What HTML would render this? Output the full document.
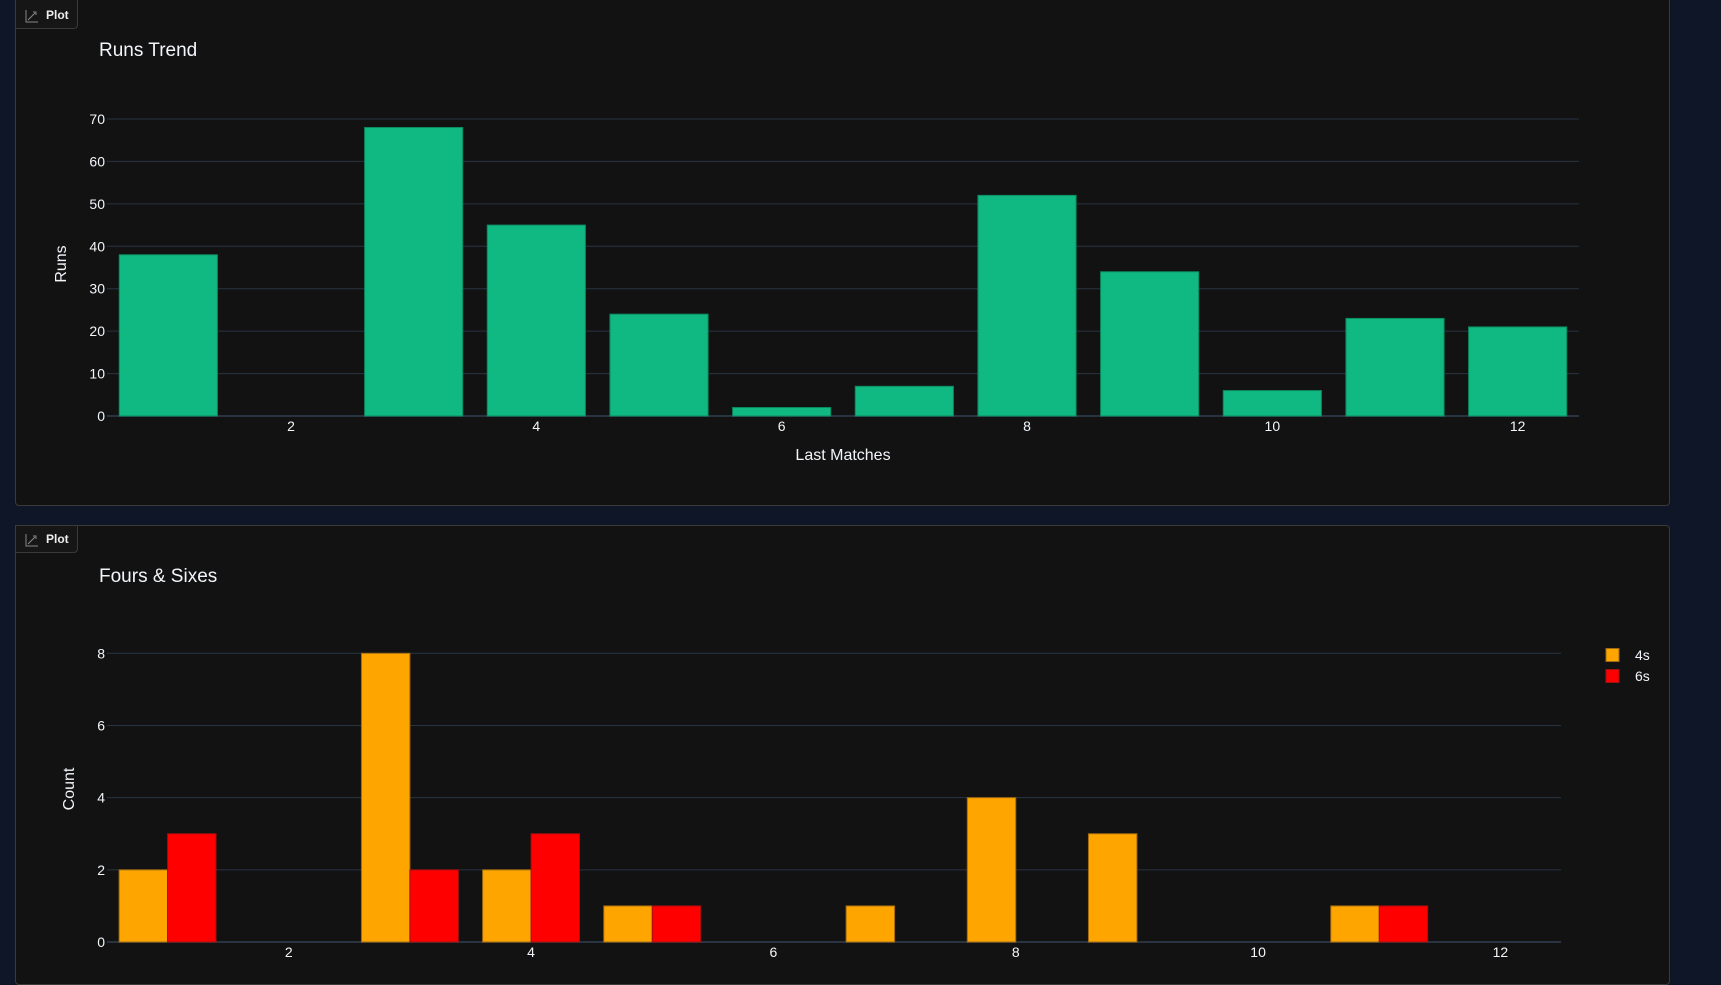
<!DOCTYPE html>
<html><head><meta charset="utf-8">
<style>
html,body{margin:0;padding:0;background:#0e1628;width:1721px;height:973px;overflow:hidden;font-family:"Liberation Sans","DejaVu Sans",sans-serif;}
.card{position:absolute;left:15px;width:1655px;background:#121212;border:1px solid #3a3a3a;border-radius:4px;box-sizing:border-box;}
.tab{position:absolute;left:-1px;top:-1px;width:63px;height:28px;border:1px solid #3a3a3a;border-radius:0 0 4px 0;background:#161616;color:#eee;font-size:12px;box-sizing:border-box;}
.tab span{position:absolute;left:30px;top:6px;font-weight:bold;}
svg{position:absolute;left:0;top:0;}
</style></head>
<body>
<div class="card" style="top:-4px;height:510px;">
  <div class="tab" style="top:-1px;height:33px;"><svg width="14" height="14" style="left:9px;top:12px"><path d="M1 1V13H13M3 11L10 4M8 3H11V6" stroke="#888" fill="none" stroke-width="1"/></svg><span style="top:11px">Plot</span></div>
</div>
<div class="card" style="top:525px;height:460px;">
  <div class="tab"><svg width="14" height="14" style="left:9px;top:7px"><path d="M1 1V13H13M3 11L10 4M8 3H11V6" stroke="#888" fill="none" stroke-width="1"/></svg><span>Plot</span></div>
</div>
<svg id="s" width="1721" height="973"></svg>
<script>
const categories=[1,2,3,4,5,6,7,8,9,10,11,12];
const runs=[38,0,68,45,24,2,7,52,34,6,23,21];
const fours=[2,0,8,2,1,0,1,4,3,0,1,0];
const sixes=[3,0,2,3,1,0,0,0,0,0,1,0];
const runTicks=[0,10,20,30,40,50,60,70];
const countTicks=[0,2,4,6,8];
const xTicks=[2,4,6,8,10,12];
const NS="http://www.w3.org/2000/svg";
const s=document.getElementById('s');
function mk(t,a,txt){const e=document.createElementNS(NS,t);for(const k in a)e.setAttribute(k,a[k]);if(txt!==undefined)e.textContent=txt;s.appendChild(e);return e;}
function chart(o){
  const n=categories.length, step=(o.x1-o.x0)/n;
  const xc=c=>o.x0+(c-0.5)*step;
  const y=v=>o.y0-(v/o.max)*(o.y0-o.yTop);
  o.yt.forEach(t=>{
    const l=mk('line',{x1:o.x0,x2:o.x1,y1:y(t),y2:y(t),stroke:'#283442','stroke-width':t===0?2:1});
    
    
    const tx=mk('text',{x:o.x0-2,y:y(t)+5,fill:'#f2f5fa','font-size':14,'text-anchor':'end'},t);
    
    
  });
  xTicks.forEach(t=>{
    const tx=mk('text',{x:xc(t),y:o.y0+15,fill:'#f2f5fa','font-size':14,'text-anchor':'middle'},t);
    
    
  });
  const gw=step*0.8, bw=gw/o.series.length;
  o.series.forEach((se,si)=>{
    se.vals.forEach((v,i)=>{
      if(!v)return;
      const x=xc(categories[i])-gw/2+si*bw;
      const r=mk('rect',{x:x,y:y(v),width:bw,height:o.y0-y(v),fill:se.color,stroke:se.stroke,'stroke-width':1});
      
      
    });
  });
}
chart({x0:107,x1:1579,y0:416,yTop:119,max:70,yt:runTicks,series:[{name:'runs',vals:runs,color:'#10b981',stroke:'#0c8a60'}]});
chart({x0:107,x1:1561,y0:942,yTop:653.3,max:8,yt:countTicks,series:[{name:'fours',vals:fours,color:'#ffa500',stroke:'#a06a10'},{name:'sixes',vals:sixes,color:'#ff0000',stroke:'#a01010'}]});
let t;
t=mk('text',{x:99,y:56,fill:'#f2f5fa','font-size':19},'Runs Trend');


t=mk('text',{x:843,y:460,fill:'#f2f5fa','font-size':16,'text-anchor':'middle'},'Last Matches');


t=mk('text',{x:0,y:0,fill:'#f2f5fa','font-size':16,'text-anchor':'middle',transform:'translate(66,264) rotate(-90)'},'Runs');


t=mk('text',{x:99,y:582,fill:'#f2f5fa','font-size':19},'Fours & Sixes');


t=mk('text',{x:0,y:0,fill:'#f2f5fa','font-size':16,'text-anchor':'middle',transform:'translate(74,789) rotate(-90)'},'Count');


[['4s','#ffa500','#a06a10',655],['6s','#ff0000','#a01010',676]].forEach(l=>{
  const r=mk('rect',{x:1606,y:l[3]-6.5,width:13,height:13,fill:l[1],stroke:l[2]});
  
  
  const tx=mk('text',{x:1635,y:l[3]+5,fill:'#f2f5fa','font-size':14},l[0]);
  
  
});
</script>
</body></html>
